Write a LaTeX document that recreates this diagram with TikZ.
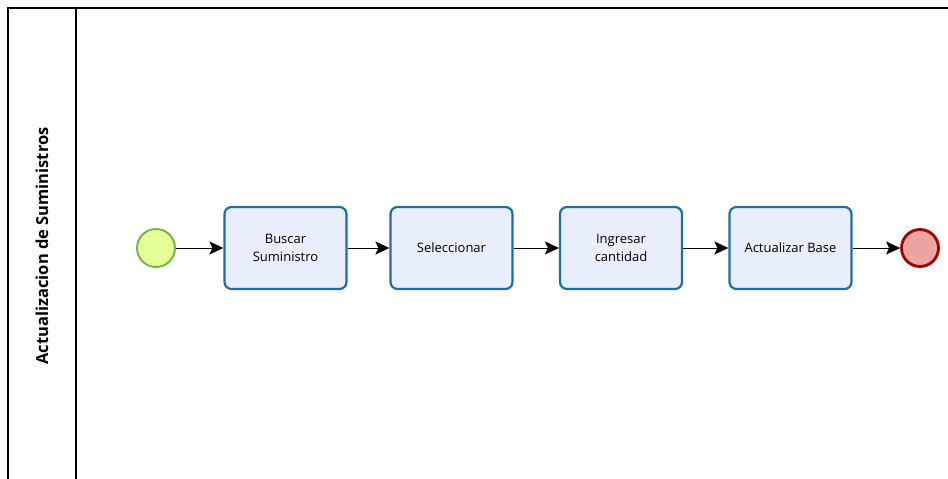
\documentclass[tikz,border=0pt]{standalone}
\usepackage{fontspec}
\setmainfont{Open Sans}
\usetikzlibrary{arrows.meta}
\definecolor{taskfill}{HTML}{E8EEFB}
\definecolor{taskdraw}{HTML}{1F6E9E}
\definecolor{startfill}{HTML}{E6FF97}
\definecolor{startdraw}{HTML}{6DB33F}
\definecolor{endfill}{HTML}{EBA4A4}
\definecolor{enddraw}{HTML}{A20000}
\tikzset{
  task/.style={draw=taskdraw, fill=taskfill, line width=2.2pt, rounded corners=7pt,
    minimum width=122pt, minimum height=82pt, align=center, font=\fontsize{13}{18}\selectfont, inner sep=2pt},
  startev/.style={circle, draw=startdraw, fill=startfill, line width=1.8pt, minimum size=38pt, inner sep=0pt},
  endev/.style={circle, draw=enddraw, fill=endfill, line width=2.8pt, minimum size=37pt, inner sep=0pt},
  flow/.style={draw=black, line width=1pt, -{Stealth[width=13pt,length=14pt,inset=3pt]}},
  pool/.style={draw=black, line width=1.2pt}
}
\begin{document}
\begin{tikzpicture}[x=1pt,y=-1pt]
\useasboundingbox (0,0) rectangle (948,479);
\draw[pool] (8,485) -- (8,8) -- (960,8);
\draw[pool] (76,8) -- (76,485);
\node[rotate=90, font=\fontsize{16.5}{20}\selectfont\bfseries] (title) at (42,246) {Actualizacion de Suministros};
\node[startev] (s) at (156,248) {};
\node[task] (t1) at (285.5,248) {Buscar\\Suministro};
\node[task] (t2) at (451.5,248) {Seleccionar};
\node[task] (t3) at (621,248) {Ingresar\\cantidad};
\node[task] (t4) at (790.5,248) {Actualizar Base};
\node[endev] (e) at (920,248) {};
\draw[flow] (s) -- (t1);
\draw[flow] (t1) -- (t2);
\draw[flow] (t2) -- (t3);
\draw[flow] (t3) -- (t4);
\draw[flow] (t4) -- (e);
\end{tikzpicture}
\end{document}
